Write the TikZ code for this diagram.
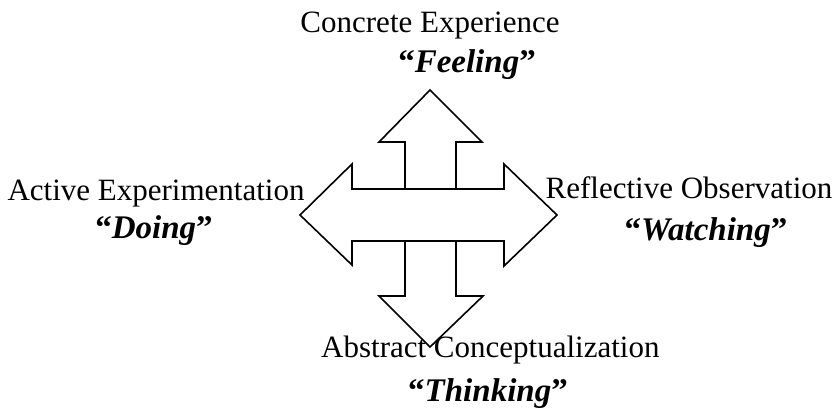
\documentclass[tikz,border=0pt]{standalone}
\usepackage{fontspec}
\setmainfont{Liberation Serif}
\usepackage{tikz}
\usetikzlibrary{positioning}
\tikzstyle{stage} = [anchor=base, inner sep=0pt, font=\fontsize{31}{36}\selectfont]
\tikzstyle{mode} = [anchor=base, inner sep=0pt, font=\fontsize{33}{38}\selectfont\bfseries]
\tikzstyle{cross} = [line width=1.6pt, draw=black, line join=miter]
\newcommand{\mode}[1]{``\textit{#1}''}

\begin{document}
\begin{tikzpicture}[x=1pt, y=-1pt]
                                \useasboundingbox (0,0) rectangle (835,412);
                                % double arrow across
                                \draw [cross] (352,189) -- (504,189) -- (504,164) -- (557,215) -- (504,266) -- (504,241)
                                    -- (352,241) -- (352,265) -- (300,215) -- (352,164) -- cycle;
                                % arrow up
                                \draw [cross] (405,189) -- (405,142) -- (379,142) -- (430,90) -- (482,142) -- (456,142) -- (456,189);
                                % arrow down
                                \draw [cross] (405,241) -- (405,296) -- (379,296) -- (430,347) -- (483,296) -- (456,296) -- (456,241);
                                % stages
                                \node (ce) [stage] at (430,33) {Concrete Experience};
                                \node (ro) [stage] at (689,198) {Reflective Observation};
                                \node (ac) [stage, anchor=base west] at (321,357) {Abstract Conceptualization};
                                \node (ae) [stage] at (156,200) {Active Experimentation};
                                % modes
                                \node (feel) [mode] at (467,72) {\mode{Feeling}};
                                \node (watch) [mode] at (706,240) {\mode{Watching}};
                                \node (think) [mode] at (488,401) {\mode{Thinking}};
                                \node (do) [mode] at (154,238) {\mode{Doing}};
                            \end{tikzpicture}
\end{document}
